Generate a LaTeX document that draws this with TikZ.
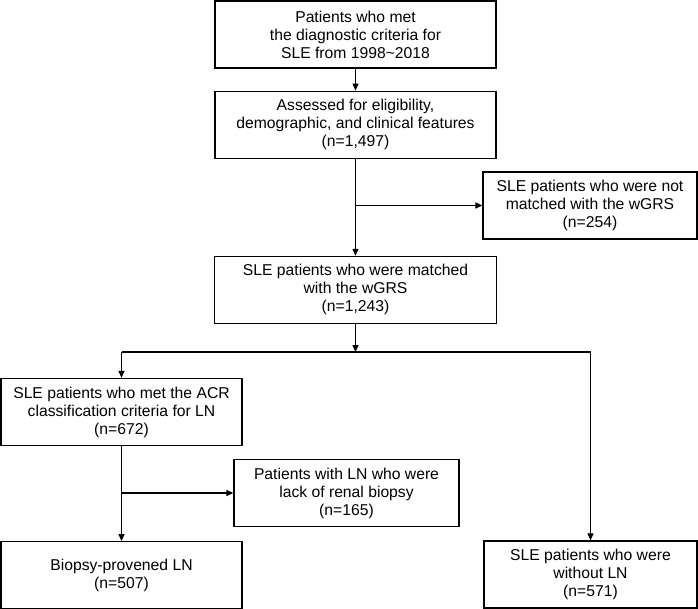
\documentclass[tikz,border=0pt]{standalone}
\usepackage{fontspec}
\setmainfont{Liberation Sans}
\usetikzlibrary{arrows.meta,positioning,calc}

\begin{document}
\begin{tikzpicture}[x=1pt,y=-1pt,node distance=0mm, every node/.style={font=\fontsize{15.7}{18}\selectfont},
  flowbox/.style={draw,rectangle,line width=1.2pt,align=center,minimum height=67pt,inner sep=2pt},
  flowarr/.style={line width=1.1pt,-{Triangle[length=7pt,width=6pt]}}]
\useasboundingbox (0,0) rectangle (698,609);

\node[flowbox,minimum width=281pt] (met) at (355.5,34.5) {Patients who met\\the diagnostic criteria for\\SLE from 1998\textasciitilde 2018};
\node[flowbox,below=22pt of met,minimum width=281pt] (elig) {Assessed for eligibility,\\demographic, and clinical features\\(n=1,497)};
\node[flowbox,minimum width=214pt] (notm) at (590,205.5) {SLE patients who were not\\matched with the wGRS\\(n=254)};
\node[flowbox,below=97pt of elig,minimum width=282pt] (match) {SLE patients who were matched\\with the wGRS\\(n=1,243)};

\node[flowbox,minimum width=241pt] (acr) at (121.5,412) {SLE patients who met the ACR\\classification criteria for LN\\(n=672)};
\node[flowbox,minimum width=225pt] (lack) at (346.5,493) {Patients with LN who were\\lack of renal biopsy\\(n=165)};
\node[flowbox,below=95pt of acr,minimum width=241pt] (biop) {Biopsy-provened LN\\(n=507)};
\node[flowbox,minimum width=213pt] (wo) at (590.5,574.5) {SLE patients who were\\without LN\\(n=571)};

\coordinate (split) at ($(match.south)+(0,28)$);

\draw[flowarr] (met) -- (elig);
\draw[flowarr] (elig) -- (match);
\draw[flowarr] (elig.south |- notm.west) -- (notm.west);
\draw[flowarr] (match) -- (split);
\draw[line width=1.1pt] (split -| acr.north) -- (split -| wo.north);
\draw[flowarr] (split -| acr.north) -- (acr);
\draw[flowarr] (split -| wo.north) -- (wo);
\draw[flowarr] (acr) -- (biop);
\draw[flowarr] (acr.south |- lack.west) -- (lack.west);
\end{tikzpicture}
\end{document}
